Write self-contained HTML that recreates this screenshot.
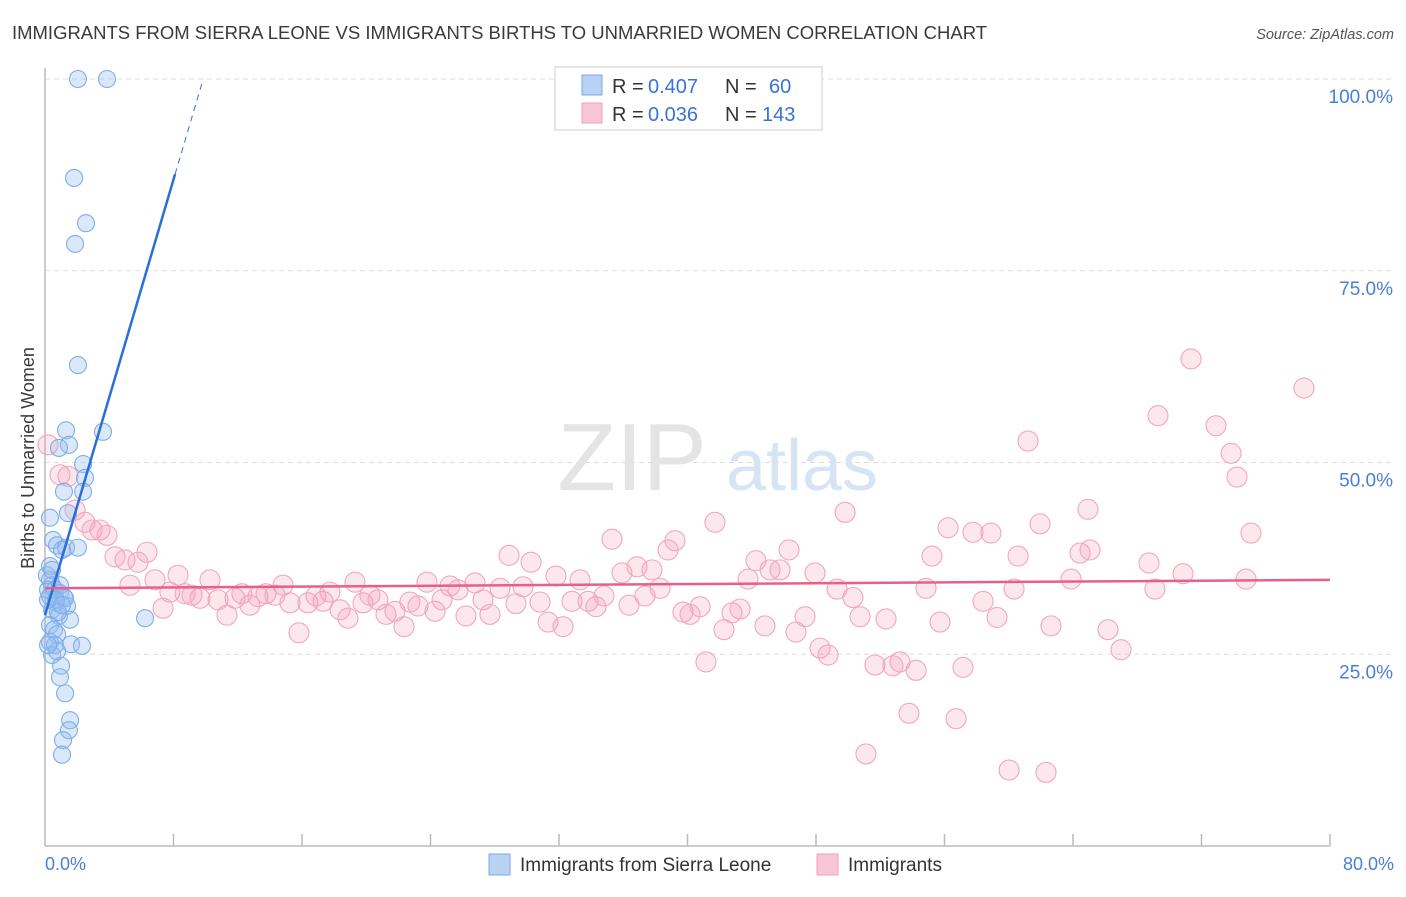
<!DOCTYPE html>
<html><head><meta charset="utf-8"><style>
body{margin:0;background:#fff;font-family:"Liberation Sans",sans-serif;}
svg text{font-family:"Liberation Sans",sans-serif;}
</style></head><body>
<svg id="chart" width="1406" height="892" viewBox="0 0 1406 892" xmlns="http://www.w3.org/2000/svg">
<text x="12" y="39" font-size="18.5" fill="#3a3a3a" textLength="975" lengthAdjust="spacingAndGlyphs">IMMIGRANTS FROM SIERRA LEONE VS IMMIGRANTS BIRTHS TO UNMARRIED WOMEN CORRELATION CHART</text>
<text x="1394" y="39" font-size="14.5" fill="#555" text-anchor="end" font-style="italic">Source: ZipAtlas.com</text>
<g id="grid"></g>
<g id="watermark">
<text x="632" y="490" font-size="96" fill="#e4e4e4" font-family="Liberation Serif" text-anchor="middle">ZIP</text>
<text x="802" y="490" font-size="72" fill="#d6e4f4" text-anchor="middle">atlas</text>
</g>
<line x1="45" y1="68" x2="45" y2="846" stroke="#bbb" stroke-width="1.5"/>
<line x1="45" y1="846" x2="1330" y2="846" stroke="#bbb" stroke-width="1.5"/>
<g id="xticks"></g>
<g id="yticks"></g>
<text x="45" y="870" font-size="18" fill="#4a7fd8">0.0%</text>
<text x="1394" y="870" font-size="18" fill="#4a7fd8" text-anchor="end">80.0%</text>
<text transform="translate(34,458) rotate(-90)" font-size="18" fill="#3a3a3a" text-anchor="middle">Births to Unmarried Women</text>
<g id="pink"></g>
<g id="blue"></g>
<g id="lines"></g>
<g>
<rect x="555" y="67" width="267" height="63" fill="#fff" stroke="#ccc"/>
<rect x="582" y="75" width="20" height="20" fill="#b8d2f4" stroke="#7aaae8"/>
<rect x="582" y="103" width="20" height="20" fill="#f8c6d4" stroke="#f0a0b8"/>
<text x="612" y="93" font-size="20" fill="#333">R =</text>
<text x="648" y="93" font-size="20" fill="#3a72d8">0.407</text>
<text x="725" y="93" font-size="20" fill="#333">N =</text>
<text x="769" y="93" font-size="20" fill="#3a72d8">60</text>
<text x="612" y="121" font-size="20" fill="#333">R =</text>
<text x="648" y="121" font-size="20" fill="#3a72d8">0.036</text>
<text x="725" y="121" font-size="20" fill="#333">N =</text>
<text x="762" y="121" font-size="20" fill="#3a72d8">143</text>
</g>
<g>
<rect x="489" y="854" width="21" height="21" fill="#b8d2f4" stroke="#7aaae8"/>
<text x="520" y="871" font-size="19" fill="#333">Immigrants from Sierra Leone</text>
<rect x="817" y="854" width="21" height="21" fill="#f8c6d4" stroke="#f0a0b8"/>
<text x="848" y="871" font-size="19" fill="#333">Immigrants</text>
</g>
</svg>
<script>
const yTicks=[25,50,75,100];
const yTickLabels=["25.0%","50.0%","75.0%","100.0%"];
const blueX=[2.05,3.86,1.81,2.55,1.87,2.05,1.31,3.61,1.49,0.87,2.37,2.49,1.18,2.37,1.43,0.31,0.5,0.75,1.06,1.31,2.05,0.31,0.31,0.44,0.62,0.93,1.18,0.19,0.68,1.37,0.44,0.87,1.56,0.31,0.56,0.75,0.31,0.62,1.62,2.3,0.44,0.75,1.0,0.93,1.25,1.56,1.49,1.12,1.06,6.23,0.19,0.31,0.93,1.25,0.12,0.44,0.68,0.81,1.06,0.19];
const blueY=[100,100,87.1,81.2,78.5,62.7,54.2,54.0,52.3,51.9,49.8,48.0,46.2,46.2,43.4,42.8,39.9,39.2,38.6,38.9,38.9,36.5,34.7,34.0,33.4,33.0,32.5,32.1,31.7,31.3,30.8,30.0,29.5,28.8,28.2,27.6,26.6,26.2,26.3,26.1,24.9,25.4,23.5,22.0,19.9,16.4,15.1,13.8,11.9,29.7,33.4,32.6,34.0,32.3,35.3,36.0,32.1,30.5,31.4,26.2];
const pinkX=[0.19,0.93,1.43,1.87,2.49,2.93,3.42,3.86,4.36,4.98,5.79,6.35,5.29,6.85,7.35,7.78,8.28,8.72,9.15,9.65,10.27,10.77,11.33,11.83,12.26,12.76,13.26,13.76,14.32,14.82,15.25,15.81,16.37,16.87,17.31,17.74,18.37,18.86,19.3,19.8,20.23,20.73,21.23,21.79,22.35,22.72,23.22,23.78,24.28,24.72,25.21,25.71,26.21,26.77,27.27,27.7,28.33,28.89,29.32,29.76,30.26,30.82,31.32,31.81,32.25,32.81,33.31,33.81,34.3,34.8,35.3,35.92,36.36,36.86,37.35,37.79,38.29,38.79,39.22,39.72,40.16,40.78,41.15,41.71,42.27,42.77,43.27,43.77,44.26,44.82,45.14,45.76,46.32,46.75,47.32,47.94,48.25,48.75,49.31,49.81,50.3,50.74,51.11,51.67,52.36,52.79,53.23,53.79,54.23,54.85,55.22,55.72,56.22,56.72,57.15,57.77,58.4,58.89,59.27,60.02,60.58,60.33,61.2,61.95,62.32,62.63,63.88,64.44,65.06,64.93,66.18,66.99,68.73,69.1,69.29,70.85,71.35,72.9,73.84,74.21,74.77,75.08,78.38];
const pinkY=[52.3,48.4,48.2,43.8,42.2,41.2,41.2,40.5,37.7,37.3,37.0,38.3,34.0,34.7,31.0,33.1,35.3,32.9,32.7,32.3,34.7,32.1,30.1,32.3,32.9,31.4,32.5,32.9,32.7,34.0,31.7,27.8,31.7,32.6,31.9,33.1,30.8,29.7,34.4,31.7,32.7,32.1,30.2,30.6,28.6,31.8,31.3,34.4,30.6,32.1,33.9,33.4,30.0,34.3,32.1,30.2,33.6,37.9,31.6,33.8,37.0,31.8,29.2,35.2,28.6,31.9,34.7,31.9,31.2,32.6,40.0,35.6,31.4,36.4,32.6,36.0,33.6,38.6,39.8,30.5,30.2,31.2,24.0,42.2,28.2,30.4,30.9,34.8,37.2,28.7,36.0,36.0,38.6,27.9,29.9,35.6,25.8,24.9,33.5,43.5,32.4,29.9,12.0,23.6,29.6,23.5,24.0,17.3,22.9,33.6,37.8,29.2,41.5,16.6,23.3,40.9,31.9,40.8,29.8,9.9,37.8,33.5,52.8,42.0,9.6,28.7,34.8,38.2,38.6,43.9,28.2,25.6,36.9,33.5,56.1,35.5,63.5,54.8,51.2,48.1,34.8,40.8,59.7];
const blueLine=[[0,30.1],[8.1,87.6],[9.85,100]];
const pinkLine=[[0,33.6],[80,34.7]];
const X=v=>45+v/80*1285, Y=v=>846-v*7.67;
const NS="http://www.w3.org/2000/svg";
function mk(p,t,a){const e=document.createElementNS(NS,t);for(const k in a)e.setAttribute(k,a[k]);p.appendChild(e);return e;}
const grid=document.getElementById('grid'),yt=document.getElementById('yticks'),xt=document.getElementById('xticks');
yTicks.forEach((t,i)=>{
 const l=mk(grid,'line',{x1:45,x2:1394,y1:Y(t),y2:Y(t),stroke:'#ddd','stroke-dasharray':'5,4'});
 
 
 const tx=mk(yt,'text',{x:1393,y:Y(t)+24,'font-size':19,fill:'#4a7fd8','text-anchor':'end'});
 tx.textContent=yTickLabels[i];
 
 
});
for(let i=1;i<=10;i++){
 const l=mk(xt,'line',{x1:X(i*8),x2:X(i*8),y1:834,y2:846,stroke:'#bbb','stroke-width':1.5});
 
 
}
const pg=document.getElementById('pink');
pinkX.forEach((v,i)=>{
 const c=mk(pg,'circle',{cx:X(v),cy:Y(pinkY[i]),r:10,fill:'rgba(244,160,185,0.25)',stroke:'#f2a6bd','stroke-width':1.1});
 
 
});
const bg=document.getElementById('blue');
blueX.forEach((v,i)=>{
 const c=mk(bg,'circle',{cx:X(v),cy:Y(blueY[i]),r:8.5,fill:'rgba(150,190,240,0.35)',stroke:'#7eaee8','stroke-width':1.1});
 
 
});
const lg=document.getElementById('lines');
const b1=mk(lg,'line',{x1:X(blueLine[0][0]),y1:Y(blueLine[0][1]),x2:X(blueLine[1][0]),y2:Y(blueLine[1][1]),stroke:'#2a6fd8','stroke-width':2.5});


const b2=mk(lg,'line',{x1:X(blueLine[1][0]),y1:Y(blueLine[1][1]),x2:X(blueLine[2][0]),y2:Y(blueLine[2][1]),stroke:'#2a6fd8','stroke-width':1,'stroke-dasharray':'6,5'});


const p1=mk(lg,'line',{x1:X(pinkLine[0][0]),y1:Y(pinkLine[0][1]),x2:X(pinkLine[1][0]),y2:Y(pinkLine[1][1]),stroke:'#e8608a','stroke-width':2.5});


</script>
</body></html>
